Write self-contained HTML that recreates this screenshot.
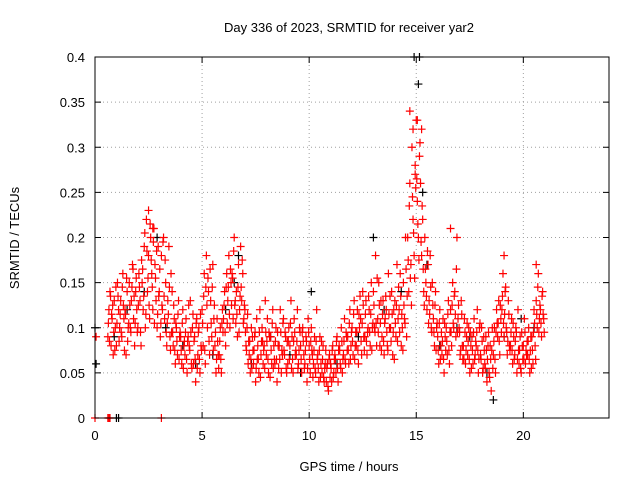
<!DOCTYPE html>
<html><head><meta charset="utf-8"><style>
body{margin:0;background:#fff}
svg{display:block;font-family:"Liberation Sans",Arial,sans-serif}
</style></head><body>
<svg id="chart" width="640" height="480" viewBox="0 0 640 480" xmlns="http://www.w3.org/2000/svg">
<rect width="640" height="480" fill="#fff"/>
<text x="349" y="32" font-size="13" text-anchor="middle">Day 336 of 2023, SRMTID for receiver yar2</text>
<text x="349" y="471" font-size="13" text-anchor="middle">GPS time / hours</text>
<text transform="translate(19,238) rotate(-90)" font-size="13" text-anchor="middle">SRMTID / TECUs</text>
<g id="grid"></g><g id="ticks"></g><g id="marks"></g>
<rect x="95" y="57" width="514" height="361" fill="none" stroke="#000" stroke-width="1"/>
</svg>
<script>
const xTicks=[0,5,10,15,20];
const yTicks=[0,0.05,0.1,0.15,0.2,0.25,0.3,0.35,0.4];
const yTickLabels=["0","0.05","0.1","0.15","0.2","0.25","0.3","0.35","0.4"];
const redStepTimes=[0.6,0.8,1.0,1.2,1.4,1.6,1.8,2.0,2.2,2.4,2.6,2.8,3.0,3.2,3.4,3.6,3.8,4.0,4.2,4.4,4.6,4.8,5.0,5.2,5.4,5.6,5.8,6.0,6.2,6.4,6.6,6.8,7.0,7.2,7.4,7.6,7.8,8.0,8.2,8.4,8.6,8.8,9.0,9.2,9.4,9.6,9.8,10.0,10.2,10.4,10.6,10.8,11.0,11.2,11.4,11.6,11.8,12.0,12.2,12.4,12.6,12.8,13.0,13.2,13.4,13.6,13.8,14.0,14.2,14.4,14.6,14.8,15.0,15.2,15.4,15.6,15.8,16.0,16.2,16.4,16.6,16.8,17.0,17.2,17.4,17.6,17.8,18.0,18.2,18.4,18.6,18.8,19.0,19.2,19.4,19.6,19.8,20.0,20.2,20.4,20.6,20.8];
const redStepValues=[[.09,.12,.14,.08],[.11,.07,.13,.1],[.08,.15,.12,.1],[.13,.09,.16,.11],[.12,.07,.14,.1],[.15,.1,.13,.17],[.11,.08,.14,.12],[.1,.16,.13,.08],[.15,.12,.19,.1],[.22,.14,.18,.11],[.2,.16,.12,.21],[.17,.13,.1,.19],[.14,.09,.18,.12],[.2,.11,.15,.08],[.13,.19,.09,.16],[.14,.08,.11,.06],[.1,.07,.13,.09],[.09,.06,.12,.08],[.07,.11,.05,.09],[.08,.13,.06,.1],[.06,.09,.04,.11],[.07,.1,.05,.08],[.12,.08,.16,.06],[.18,.1,.14,.07],[.13,.09,.17,.11],[.08,.05,.11,.07],[.07,.1,.05,.12],[.11,.14,.08,.16],[.13,.18,.1,.15],[.16,.11,.2,.13],[.14,.09,.17,.12],[.19,.13,.16,.11],[.12,.08,.1,.06],[.07,.05,.1,.09],[.06,.09,.04,.11],[.08,.05,.12,.07],[.1,.06,.08,.13],[.07,.11,.05,.09],[.09,.06,.12,.08],[.06,.1,.04,.08],[.08,.12,.05,.07],[.11,.07,.09,.05],[.06,.1,.08,.13],[.09,.05,.11,.07],[.07,.12,.06,.1],[.08,.05,.1,.07],[.06,.09,.04,.11],[.08,.05,.1,.07],[.06,.09,.05,.12],[.07,.04,.09,.06],[.05,.08,.04,.06],[.04,.06,.03,.07],[.06,.04,.08,.05],[.07,.05,.09,.04],[.08,.06,.1,.05],[.07,.11,.06,.09],[.09,.06,.12,.08],[.1,.07,.13,.08],[.08,.12,.06,.1],[.11,.07,.14,.09],[.09,.13,.07,.1],[.12,.08,.15,.1],[.14,.1,.18,.08],[.11,.15,.08,.13],[.09,.13,.07,.11],[.12,.08,.16,.1],[.1,.14,.07,.12],[.13,.09,.17,.11],[.12,.16,.08,.1],[.15,.11,.2,.09],[.2,.14,.26,.17],[.3,.22,.18,.27],[.33,.24,.2,.29],[.26,.18,.22,.14],[.2,.15,.12,.17],[.13,.18,.1,.15],[.11,.08,.14,.1],[.09,.06,.12,.08],[.07,.11,.05,.09],[.1,.07,.13,.06],[.12,.08,.15,.1],[.14,.09,.2,.11],[.1,.07,.13,.08],[.08,.11,.06,.09],[.07,.1,.05,.08],[.09,.06,.11,.07],[.08,.12,.05,.1],[.07,.1,.05,.09],[.06,.09,.04,.08],[.05,.08,.03,.1],[.07,.1,.05,.12],[.09,.13,.07,.11],[.12,.16,.09,.14],[.1,.07,.13,.08],[.08,.11,.06,.09],[.07,.1,.05,.12],[.06,.09,.05,.08],[.08,.11,.06,.07],[.07,.1,.05,.09],[.09,.06,.12,.08],[.13,.1,.16,.11],[.12,.09,.14,.11]];
const redStepValues2=[[.105,.085,.135,.115],[.125,.095,.075,.145],[.105,.135,.085,.115],[.095,.145,.125,.075],[.115,.155,.085,.105],[.125,.095,.145,.165],[.135,.105,.155,.095],[.125,.145,.095,.175],[.165,.135,.205,.115],[.185,.155,.125,.215],[.175,.145,.195,.105],[.155,.185,.115,.135],[.165,.105,.125,.195],[.135,.175,.095,.105],[.115,.145,.075,.095],[.095,.125,.075,.105],[.085,.115,.065,.095],[.075,.105,.055,.085],[.095,.065,.085,.125],[.075,.095,.055,.115],[.085,.065,.105,.055],[.095,.065,.115,.075],[.105,.135,.075,.145],[.125,.155,.085,.165],[.105,.145,.075,.125],[.095,.065,.085,.055],[.085,.065,.105,.095],[.125,.095,.145,.105],[.145,.115,.165,.125],[.155,.185,.125,.105],[.115,.145,.095,.135],[.145,.175,.105,.125],[.095,.075,.115,.085],[.085,.065,.055,.075],[.075,.095,.055,.065],[.065,.095,.045,.085],[.085,.075,.055,.095],[.085,.065,.095,.045],[.075,.105,.055,.065],[.085,.065,.095,.055],[.065,.095,.075,.105],[.075,.095,.055,.085],[.085,.065,.105,.055],[.065,.085,.095,.075],[.085,.055,.075,.095],[.065,.095,.085,.055],[.075,.085,.055,.095],[.065,.085,.075,.045],[.075,.055,.085,.065],[.055,.075,.045,.085],[.065,.045,.055,.075],[.055,.035,.065,.045],[.055,.075,.045,.065],[.065,.085,.055,.075],[.075,.055,.085,.065],[.085,.065,.095,.075],[.075,.105,.065,.095],[.085,.115,.065,.095],[.095,.075,.115,.135],[.085,.105,.125,.075],[.115,.085,.095,.135],[.095,.115,.075,.105],[.125,.095,.105,.155],[.095,.125,.105,.075],[.115,.085,.105,.135],[.095,.075,.115,.135],[.085,.115,.095,.065],[.105,.125,.085,.145],[.095,.135,.115,.075],[.125,.105,.165,.135],[.175,.235,.155,.125],[.245,.205,.155,.255],[.265,.215,.175,.305],[.195,.235,.165,.125],[.165,.135,.185,.105],[.115,.145,.095,.125],[.095,.125,.075,.105],[.075,.105,.065,.095],[.085,.065,.105,.075],[.085,.115,.075,.095],[.095,.125,.105,.135],[.115,.165,.095,.125],[.095,.075,.115,.065],[.065,.095,.075,.105],[.085,.065,.095,.055],[.075,.095,.065,.085],[.095,.075,.065,.105],[.065,.085,.055,.075],[.055,.075,.065,.095],[.045,.065,.075,.055],[.085,.065,.095,.105],[.105,.085,.125,.095],[.135,.105,.115,.145],[.095,.085,.115,.075],[.095,.075,.105,.065],[.085,.095,.065,.075],[.075,.055,.095,.065],[.065,.095,.075,.085],[.085,.065,.075,.055],[.075,.095,.105,.065],[.115,.145,.095,.125],[.105,.135,.115,.095]];
const redExtraTimes=[0,0.05,0.6,0.65,0.7,3.1,2.5,2.7,14.7,14.85,15.05,14.95,15.25,16.6,19.1,20.6];
const redExtraValues=[0,0.09,0,0,0,0,0.23,0.21,0.34,0.32,0.33,0.28,0.32,0.21,0.18,0.17];
const blackTimes=[0,0.05,0.9,1.0,1.1,1.5,2.3,2.9,3.3,4.1,4.7,5.5,6.1,6.5,6.7,7.3,8.2,9.1,9.6,10.1,11.3,12.3,13.0,13.5,14.3,14.9,15.1,15.15,15.3,15.5,16.1,16.9,17.5,18.3,18.6,19.1,19.9,20.5];
const blackValues=[.1,.06,.09,0,0,.12,.14,.2,.1,.08,.06,.07,.12,.15,.18,.06,.09,.07,.05,.14,.06,.09,.2,.12,.14,.4,.37,.4,.25,.17,.08,.1,.09,.05,.02,.09,.11,.1];
const stepOffsets=[0,0.05,0.1,0.15];
const stepOffsets2=[0.025,0.075,0.125,0.175];

const X0=95,X1=609,Y0=418,Y1=57;
const sx=v=>X0+v/24*(X1-X0);
const sy=v=>Y0-v/0.4*(Y0-Y1);
const NS="http://www.w3.org/2000/svg";
function mk(tag,attrs,parent){const e=document.createElementNS(NS,tag);for(const k in attrs)e.setAttribute(k,attrs[k]);parent.appendChild(e);return e;}
const grid=document.getElementById('grid'),ticks=document.getElementById('ticks'),marks=document.getElementById('marks');
xTicks.forEach(t=>{const x=sx(t);
 const g=mk('line',{x1:x,x2:x,y1:Y1,y2:Y0,stroke:'#a0a0a0','stroke-dasharray':'1,3'},grid);
 
 
 mk('line',{x1:x,x2:x,y1:Y0,y2:Y0-6,stroke:'#000'},ticks);
 mk('line',{x1:x,x2:x,y1:Y1,y2:Y1+6,stroke:'#000'},ticks);
 const l=mk('text',{x:x,y:Y0+22,'font-size':13,'text-anchor':'middle'},ticks);l.textContent=t;
 
 
});
yTicks.forEach((t,i)=>{const y=sy(t);
 const g=mk('line',{x1:X0,x2:X1,y1:y,y2:y,stroke:'#a0a0a0','stroke-dasharray':'1,3'},grid);
 
 
 mk('line',{x1:X0,x2:X0+6,y1:y,y2:y,stroke:'#000'},ticks);
 mk('line',{x1:X1,x2:X1-6,y1:y,y2:y,stroke:'#000'},ticks);
 const l=mk('text',{x:X0-10,y:y+5,'font-size':13,'text-anchor':'end'},ticks);l.textContent=yTickLabels[i];
 
 
});
function plus(t,v,col,name){const x=sx(t),y=sy(v);
 const p=mk('path',{d:`M${x-4} ${y}H${x+4}M${x} ${y-4}V${y+4}`,stroke:col,'stroke-width':1.2,fill:'none'},marks);
 
 
}
blackTimes.forEach((t,i)=>plus(t,blackValues[i],'#000','black-point'));
redStepTimes.forEach((t,i)=>redStepValues[i].forEach((v,j)=>plus(t+stepOffsets[j],v,'#f00','red-point')));
redStepTimes.forEach((t,i)=>redStepValues2[i].forEach((v,j)=>plus(t+stepOffsets2[j],v,'#f00','red-point')));
redExtraTimes.forEach((t,i)=>plus(t,redExtraValues[i],'#f00','red-point'));
</script>
</body></html>
